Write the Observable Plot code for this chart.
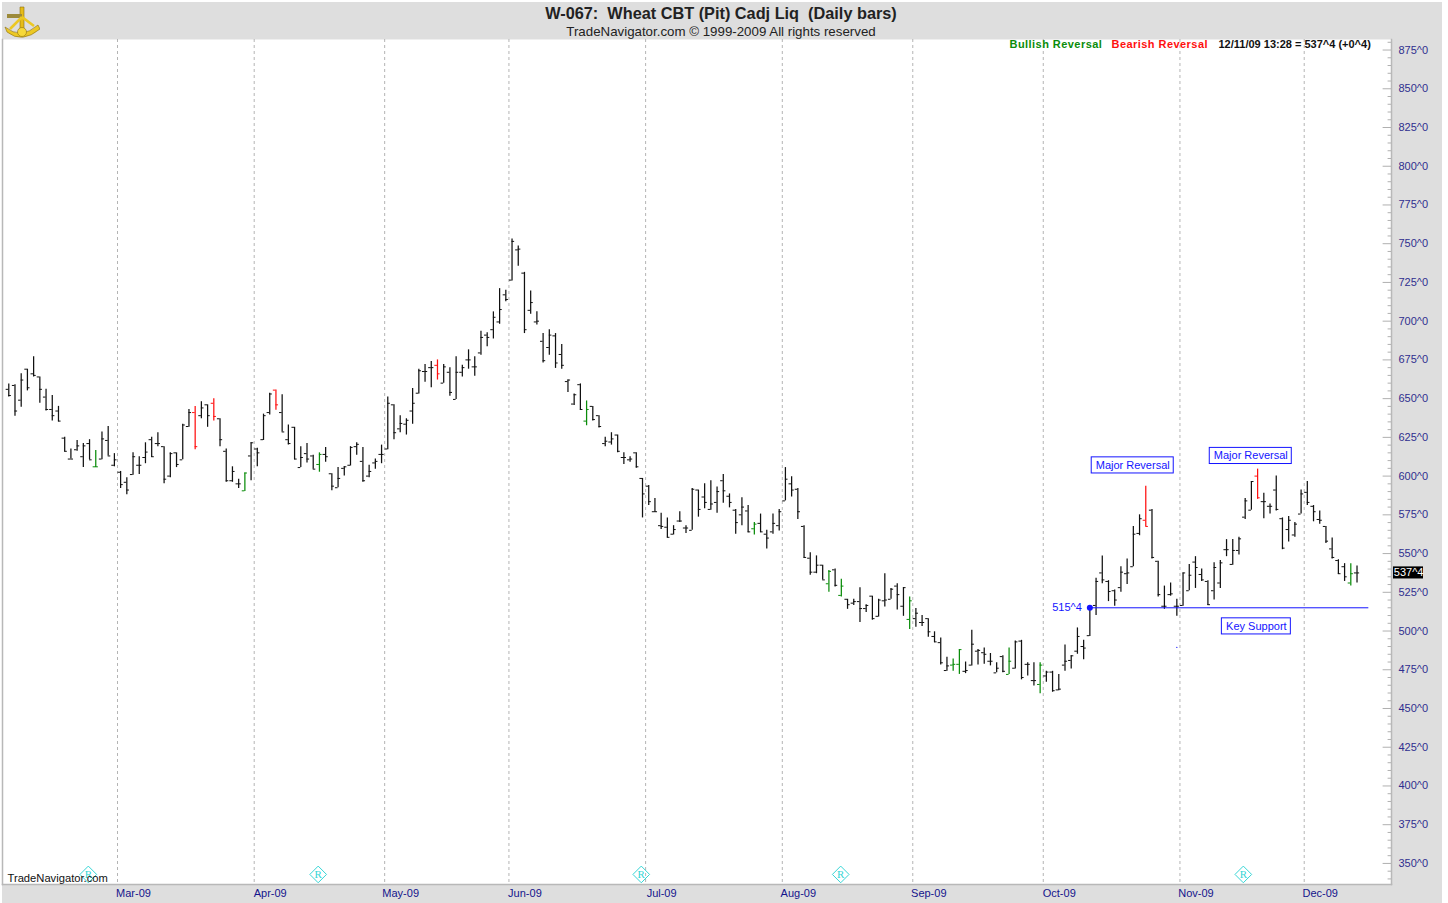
<!DOCTYPE html>
<html>
<head>
<meta charset="utf-8">
<script src="https://cdn.jsdelivr.net/npm/d3@7"></script>
<script src="https://cdn.jsdelivr.net/npm/@observablehq/plot@0.6"></script>
<style>
html,body{margin:0;padding:0;background:#fff;overflow:hidden}
#panel{position:absolute;left:2px;top:2px;width:1440px;height:901px;background:#dedede}
#page{position:absolute;left:0;top:0;width:1448px;height:903px;font-family:"Liberation Sans",Arial,sans-serif}
#head{position:relative;height:39px;text-align:center;color:#222}
#title{position:absolute;left:0;width:1442px;top:4px;font-weight:bold;font-size:16.3px;line-height:19px;white-space:pre}
#sub{position:absolute;left:0;width:1442px;top:24px;font-size:13.3px;line-height:15px;white-space:pre}
#logo{position:absolute;left:4px;top:4px}
#chart svg{display:block}
</style>
</head>
<body>
<div id="panel"></div>
<div id="page">
<div id="head">
<svg id="logo" width="36" height="34" viewBox="0 0 36 34">
<path d="M1 23 Q17 36 34 21 L36 25 Q18 40 3 28 Z" fill="#ecc824" stroke="#8a6d10" stroke-width=".6"/>
<path d="M16 3 L20 3 L20 28 L16 28 Z" fill="#e6bc18" stroke="#8a6d10" stroke-width=".6"/>
<path d="M3 10 L18 10 L18 14 L3 14 Z" fill="#9c8a3a"/>
<path d="M18 13 L6 25 M18 13 L30 22" stroke="#ecc824" stroke-width="2.6"/>
<circle cx="18" cy="28" r="4.5" fill="#f6d838" stroke="#8a6d10" stroke-width=".6"/>
</svg>
<div id="title">W-067:  Wheat CBT (Pit) Cadj Liq  (Daily bars)</div>
<div id="sub">TradeNavigator.com © 1999-2009 All rights reserved</div>
</div>
<div id="chart"></div>
</div>
<script>
const opens = [656,658.5,649,669,666,664,651,643,642,624.5,
611,617,612.5,621,606,611,623,607,602.5,596,
601,607,612,623.5,621,619,600,615,610.5,632,
641,639,646,647,637,616,597,595,590.5,613,
617.5,623.5,641,655.5,641,623.5,631.5,605.5,614.5,613,
607.5,614,601.5,592.5,605,607,619,609.5,600,608.5,
614,617.5,646,630.5,633.5,642,653.5,667.5,670,671.5,
660,667,649.5,667,675,670.5,679.5,691,694.5,699.5,
717,726.5,746,731,707,699.5,687,683,690.5,678.5,
661,646.5,659,635.5,645,639,621,622,626.5,612,
610.5,615,598.5,593.5,577,568,567,562.5,571,566.5,
565,591,586.5,578.5,583,597,587,578,575,577.5,
566,569.5,562.5,564,568,584,595,591.5,567.5,547,
538,542.5,530.5,539.5,523,520.5,518,519,514.5,522.5,
509.5,519.5,520.5,529,516,507.5,508,505.5,508,496.5,
492.5,474.5,478,478.5,474,478,487,486,480.5,473,
483.5,472,476,493.5,478.5,468,465.5,471,473.5,462,
478,481,487,490,497,516.5,537.5,532,526,528,
537,541.5,563,571.5,578,545,516,523.5,516,516.5,
526,544.5,536.5,532,526,531,552.5,543,552,573.5,
578,600,583.5,580.5,591,572.5,565.5,562,575.5,589.5,
580.5,572,567.5,553,545.5,541.5,531,537.5];
const highs = [659.5,659,666,669,677,664,656,652,645,625,
617.5,623,621,623.5,616.5,628.5,632,614.5,603,599,
615,612.5,621.5,625,628,619,615,615,633.5,643,
645,648,646,650,637,617.5,606,598,602,621.5,
618,640,653.5,655.5,652.5,633,631.5,619,621,613.5,
615,618.5,601.5,605.5,606,619,621.5,618.5,607,611,
620,651,646,639,637,656.5,669,672,674,675,
672,670,677,671.5,681.5,677,693.5,692.5,706,721,
720,753,748.5,731.5,719.5,706,692,694.5,692,685,
662,653,659.5,648.5,645,639,625,628,626.5,615,
612.5,615,598.5,594,585.5,576,573,568,577,568,
592,591,595,597,593,601,588.5,578.5,586,581,
570,575.5,565,575.5,578.5,605.5,599.5,592,568,550.5,
548.5,542.5,539,540,533.5,520.5,520.5,528,517,522.5,
520.5,537,527.5,530.5,528,522,514.5,510,508,499.5,
495.5,483,482,488,480,500.5,488,489,485.5,479.5,
484,489,493.5,494,479.5,479.5,479.5,474,474,472,
491,484,502,494,514.5,534,548.5,532.5,526.5,541.5,
546.5,567.5,575,593.5,578.5,545,529,531,520.5,537.5,
543,548,540,532.5,544,545.5,559,559,560.5,585.5,
596.5,604.5,589,582,600,573,574,570,591,596.5,
581,577.5,567.5,560,546,543.5,543.5,542];
const lows = [651,638.7,644.5,655,664,647,642,635.5,635,615.5,
611,616,605.5,610.5,605.5,610.5,613,606,592,588,
600.5,601,608,612,619,595,599,605.5,610.5,631.5,
617,637,631.5,635.5,619,596,596,592,590,597,
606,623,639.5,642.5,628.5,620,610.5,605.5,608.5,604.5,
602.5,609,590.5,592.5,600,606.5,613.5,596,599,604.5,
608,617,623.5,628,626.5,633.5,653,660.5,657,662,
660,651.5,649.5,664,669,664.5,678,683.5,688.5,698,
712.5,726,735.5,692,704.5,697.5,673,678,669.5,669,
654,645.5,642.5,632.5,635.5,631,619,620,615,607.5,
609,605,573,581,576.5,565.5,560,562,570,563,
565,573.5,579,578,576,582.5,579.5,562.5,568,563.5,
562,563.5,553,562.5,564.5,584,586.5,572,547,536,
537,533,525,528.5,522,514,516.5,505.5,512,507,
509,515.5,520.5,513.5,509.5,501,502.5,503,496,492.5,
478,474,474,472,472.5,477.5,478,478.5,477.5,473,
473,472,475.5,468.5,471,464.5,459.5,467,460.5,461.5,
474,475.5,485,481.5,496.5,510,530.5,519,516,525,
530,541.5,561.5,567.5,546.5,522,514,522.5,509.5,516,
526,527.5,532,516.5,520,527.5,548,542.5,549,572,
578,585,572.5,575.5,577.5,552.5,557.5,560.5,575.5,581,
570.5,569,556.5,546.5,536.5,532,529,531];
const closes = [652,642,662,657,665,656,643,639,635.5,616,
611,619.5,619.5,610.5,606,624,613,610.5,594.5,591,
612.5,607,615.5,612.5,621,598,614.5,607.5,633,641,
619,644,639,638.5,623.5,597,603,595,602,621.5,
615,639,653,646,628.5,621,611,612,611,604.5,
614,612.5,593.5,598.5,606,618.5,620.5,597,603,609.5,
614,647,628,634,636,647,668,667.5,670,666,
670.5,654,667,670,675,670.5,689.5,689.5,702.5,707.5,
714,751.5,746.5,694.5,712,700,674.5,691,673,671.5,
662,652.5,643,643,636.5,632,622.5,624,616,612,
611,606,588.5,583.5,577,567.5,560.5,565.5,571,566.5,
591.5,578.5,583,582,590,590.5,583,570,580,564,
569,564,560,569.5,577,598,591,577,547.5,538,
542.5,533,538.5,529.5,529,517,519,514.5,516.5,508,
520,520,527,523.5,528,519.5,511.5,505.5,499.5,493,
479.5,477.5,478.5,488,474.5,491.5,487.5,485,480.5,476,
474,480.5,493,470,478.5,468,478,473.5,461.5,462.5,
480.5,484,496.5,489,514.5,532,533,525.5,520,538,
537.5,562.5,572.5,567.5,547.5,523.5,516,524,516,537.5,
536,541,533,517,541,544,552.5,552,559.5,584,
596.5,586,583.5,580.5,578.5,553.5,571.5,569,588.5,583,
577,571.5,558,547.5,537,535,537,537.5];
const bullishBars = [14,38,50,93,120,132,134,145,152,153,161,166,216];
const bearishBars = [30,33,43,69,183,201];
const monthStarts = [17.5,39.5,60.5,80.5,102.5,124.5,145.5,166.5,188.5,208.5];
const monthLabels = ["Mar-09","Apr-09","May-09","Jun-09","Jul-09","Aug-09","Sep-09","Oct-09","Nov-09","Dec-09"];
const priceTicks = d3.range(350, 876, 25);
const minorTicks = d3.range(340, 881, 5).filter(v => v % 25 !== 0);
const rMarkers = [12.8,49.8,101.8,133.9,198.7];
const keySupport = 515;
const lastClose = 537.5;

const BLUE = "#1414ff", NAVY = "#2f2f8f", GREEN = "#0a8c0a", RED = "#ff1010";
const xMin = -1.01, xMax = 222.55;
const fmtPrice = v => `${v}^0`;
const bars = opens.map((o, i) => ({
  i, open: o, high: highs[i], low: lows[i], close: closes[i],
  color: bullishBars.includes(i) ? GREEN : bearishBars.includes(i) ? RED : "#111"
}));
const notes = [
  {text:"Major Reversal", i:180.9, w:6.6, p:606.9},
  {text:"Major Reversal", i:199.9, w:6.6, p:613},
  {text:"Key Support", i:200.8, w:5.55, p:503}
];
const legend = [
  {text:"Bullish Reversal", px:1009, spacing:".45px", fill:GREEN},
  {text:"Bearish Reversal", px:1111, spacing:".45px", fill:RED},
  {text:"12/11/09 13:28 = 537^4 (+0^4)", px:1218, spacing:"0", fill:"#111"}
];

const chart = Plot.plot({
  width: 1448, height: 864,
  marginLeft: 2, marginRight: 57, marginTop: 0, marginBottom: 19,
  style: {background: "transparent", overflow: "visible", fontFamily: '"Liberation Sans",Arial,sans-serif'},
  x: {domain: [xMin, xMax], axis: null},
  y: {domain: [336.4, 881.8], axis: null},
  marks: [
    Plot.frame({fill: "white", stroke: "none"}),
    Plot.ruleX(monthStarts, {stroke: "#b4b4b4", strokeWidth: 1, strokeDasharray: "3,3"}),
    Plot.frame({anchor: "left", stroke: "#b8b8b8", strokeWidth: 1.5}),
    Plot.frame({anchor: "right", stroke: "#b8b8b8", strokeWidth: 1.5}),
    Plot.frame({anchor: "bottom", stroke: "#b8b8b8", strokeWidth: 1.5}),
    Plot.ruleY(priceTicks, {x1: xMax - 1.35, x2: xMax, stroke: "#b0b0b0"}),
    Plot.ruleY(minorTicks, {x1: xMax - 0.55, x2: xMax, stroke: "#b0b0b0"}),
    Plot.axisY(priceTicks, {anchor: "right", tickSize: 0, tickPadding: 7, tickFormat: fmtPrice, fontSize: 11, fill: NAVY, label: null}),
    Plot.axisX(monthStarts, {anchor: "bottom", tickSize: 0, tickPadding: 5, dx: 16, tickFormat: (d, k) => monthLabels[k], fontSize: 11, fill: "#14148c", label: null}),

    Plot.ruleX(bars, {x: "i", y1: "low", y2: "high", stroke: "color", strokeWidth: 1.25}),
    Plot.ruleY(bars, {y: "open", x1: d => d.i - 0.42, x2: "i", stroke: "color", strokeWidth: 1}),
    Plot.ruleY(bars, {y: "close", x1: "i", x2: d => d.i + 0.42, stroke: "color", strokeWidth: 1}),

    Plot.ruleY([keySupport], {x1: 174, x2: 218.9, stroke: BLUE, strokeWidth: 1}),
    Plot.dot([{i: 174, p: keySupport}], {x: "i", y: "p", r: 3, fill: BLUE}),
    Plot.dot([{i: 188, p: 489.4}], {x: "i", y: "p", r: 0.6, fill: BLUE}),
    Plot.text([{i: 174, p: keySupport}], {x: "i", y: "p", text: () => "515^4", dx: -8, textAnchor: "end", fontSize: 11, fill: BLUE}),
    Plot.rect(notes, {x1: d => d.i - d.w, x2: d => d.i + d.w, y1: d => d.p - 5.2, y2: d => d.p + 5.2, fill: "white", stroke: BLUE, strokeWidth: 1}),
    Plot.text(notes, {x: "i", y: "p", text: "text", fontSize: 11, fill: BLUE}),

    Plot.rect([lastClose], {x1: 222.87, x2: 227.7, y1: d => d - 3.9, y2: d => d + 3.9, fill: "black"}),
    Plot.text([lastClose], {x: 225.3, y: d => d, text: () => "537^4", fontSize: 11, fill: "white"}),

    Plot.dot(rMarkers, {x: d => d, y: 342.9, symbol: "diamond2", r: 7.5, stroke: "#35d6d6", strokeWidth: 1}),
    Plot.text(rMarkers, {x: d => d, y: 342.9, text: () => "R", fontFamily: '"Liberation Serif",serif', fontSize: 11, fill: "#35d6d6"}),
    Plot.text(["TradeNavigator.com"], {frameAnchor: "bottom-left", dx: 5, dy: -3, text: d => d, fontSize: 11.2, fill: "#111"}),

    Plot.text(legend, {frameAnchor: "top-left", text: "text", fill: "fill", textAnchor: "start", fontWeight: "bold", fontSize: 11, render(index, scales, values, dims, context, next) {
      const g = next(index, scales, values, dims, context);
      g.querySelectorAll("text").forEach((t, k) => {
        const d = legend[index[k]];
        t.setAttribute("transform", `translate(${d.px},1)`);
        t.style.letterSpacing = d.spacing;
      });
      return g;
    }})
  ]
});
document.getElementById("chart").append(chart);
</script>
</body>
</html>
